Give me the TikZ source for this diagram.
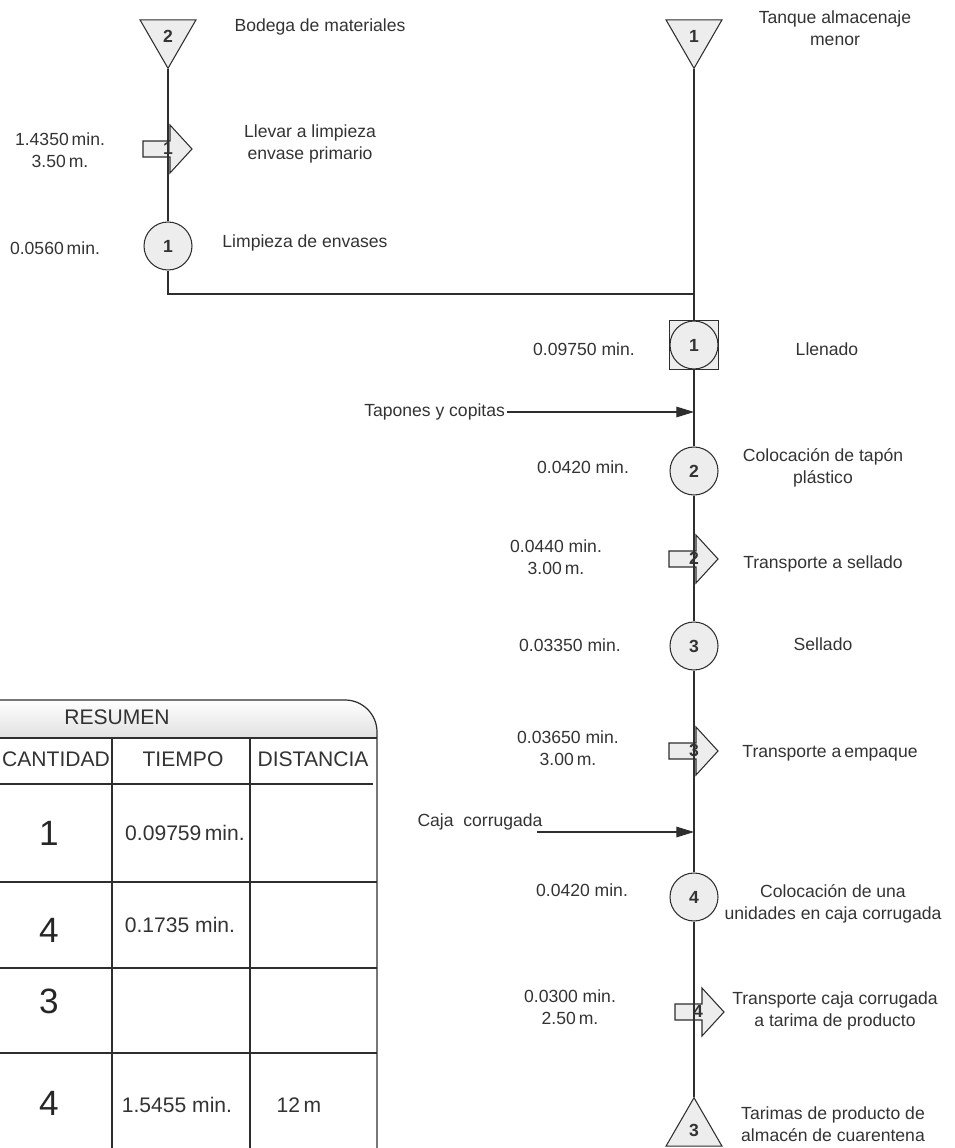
\documentclass[tikz,border=0pt]{standalone}
\usepackage{fontspec}
\setmainfont{Liberation Sans}
\usetikzlibrary{arrows.meta,calc,shapes.geometric}
\definecolor{grisfondo}{rgb}{0.93,0.93,0.93}
\definecolor{gristrazo}{rgb}{0.18,0.18,0.18}
\definecolor{gristexto}{rgb}{0.2,0.2,0.2}
\tikzset{
  operacion/.style={
    circle,
    draw=gristrazo,
    fill=grisfondo,
    line width=.6pt,
    minimum size=.96cm,
    inner sep=0pt,
    text=gristexto,
    font=\fontsize{10}{12}\selectfont\bfseries
  },
  inspeccion/.style={
    rectangle,
    draw=gristrazo,
    fill=grisfondo,
    line width=.6pt,
    minimum size=.98cm,
    inner sep=0pt
  },
  almacen/.style={
    regular polygon,
    regular polygon sides=3,
    draw=gristrazo,
    fill=grisfondo,
    line width=.6pt,
    minimum size=1.293cm,
    inner sep=0pt,
    text=gristexto,
    font=\fontsize{10}{12}\selectfont\bfseries
  },
  simbolo/.style={
    draw=gristrazo,
    fill=grisfondo,
    line width=.6pt
  },
  num/.style={
    inner sep=0pt,
    text=gristexto,
    font=\fontsize{10}{12}\selectfont\bfseries
  },
  texto/.style={
    align=center,
    inner sep=1pt,
    text=gristexto,
    font=\fontsize{10}{12.5}\selectfont
  },
  flujo/.style={
    draw=gristrazo,
    line width=.6pt
  },
  entrada/.style={
    flujo,
    -{Triangle[length=10pt,width=6pt]}
  },
  tabla/.style={
    draw=gristrazo,
    line width=.7pt
  },
  celda/.style={
    inner sep=1pt,
    text=gristexto,
    font=\fontsize{12}{14}\selectfont
  },
  cifra/.style={
    inner sep=1pt,
    text=black!85,
    font=\fontsize{20}{24}\selectfont
  },
  transp/.pic={
    \path[simbolo] (-25,-8) -- (2,-8) -- (2,-24) -- (24,0) -- (2,24) -- (2,8) -- (-25,8) -- cycle;
  }
}

\begin{document}
\begin{tikzpicture}[x=.02cm,y=-.02cm]
\useasboundingbox (0,0) rectangle (954,1148);
\clip (0,0) rectangle (954,1148);

\shade[top color=white, bottom color=black!12] (-20,738) -- (-20,700) -- (345,700)
  arc[start angle=270, end angle=360, radius=32] -- (377,738) -- cycle;
\draw[tabla] (-20,700) -- (345,700) arc[start angle=270, end angle=360, radius=32] -- (377,1160);
\draw[tabla] (-20,738) -- (377,738);
\draw[tabla] (-20,784) -- (373,784);
\draw[tabla] (-20,882) -- (377,882);
\draw[tabla] (-20,968) -- (377,968);
\draw[tabla] (-20,1053) -- (377,1053);
\draw[tabla] (112,738) -- (112,1160);
\draw[tabla] (250,738) -- (250,1160);
\node[celda] (resumen) at (117,717) {RESUMEN};
\node[celda] (h1) at (56,759) {CANTIDAD};
\node[celda] (h2) at (183,759) {TIEMPO};
\node[celda] (h3) at (313,759) {DISTANCIA};
\node[cifra] (n1) at (49,833) {1};
\node[cifra] (n2) at (49,930) {4};
\node[cifra] (n3) at (49,1001) {3};
\node[cifra] (n4) at (49,1103) {4};
\node[celda] (q1) at (185,833) {0.09759\,min.};
\node[celda] (q2) at (180,925) {0.1735 min.};
\node[celda] (q4) at (177,1105) {1.5455 min.};
\node[celda] (dist) at (299,1105) {12\,m};

\node[almacen, shape border rotate=180] (t2) at (168,36) {2};
\node[operacion] (c1) at (168,246) {1};
\node[almacen, shape border rotate=180] (t1) at (694,36) {1};
\node[inspeccion] (ll) at (694,345) {};
\node[operacion] (c0) at (ll) {1};
\node[operacion] (c2) at (694,471) {2};
\node[operacion] (c3) at (694,646) {3};
\node[operacion] (c4) at (694,897) {4};
\node[almacen] (t3) at (694,1130) {3};
\coordinate (union) at (694,294);

\pic at (168,149) {transp};
\pic at (694,559) {transp};
\pic at (694,751) {transp};
\pic at (700,1012) {transp};

\draw[flujo] (t2.corner 1) -- (c1.north);
\draw[flujo] (c1.south) |- (union);
\draw[flujo] (t1.corner 1) -- (ll.north);
\draw[flujo] (ll.south) -- (c2.north);
\draw[flujo] (c2.south) -- (c3.north);
\draw[flujo] (c3.south) -- (c4.north);
\draw[flujo] (c4.south) -- (t3.corner 1);

\node[num] (tr1) at (168,148) {1};
\node[num] (tr2) at (694,558) {2};
\node[num] (tr3) at (694,750) {3};
\node[num] (tr4) at (698,1011) {4};

\node[texto] (dt2) at (320,27) {Bodega de materiales};
\node[texto] (mtr1) at (60,150) {1.4350\,min.\\3.50\,m.};
\node[texto] (dtr1) at (310,144) {Llevar a limpieza\\envase primario};
\node[texto] (mc1) at (55,248) {0.0560\,min.};
\node[texto] (dc1) at (305,243) {Limpieza de envases};
\node[texto] (dt1) at (835,28) {Tanque almacenaje\\menor};
\node[texto] (mll) at (584,349) {0.09750 min.};
\node[texto] (dll) at (827,349) {Llenado};
\node[texto, anchor=east] (tap) at (507,412) {Tapones y copitas};
\coordinate (e1) at (694,412);
\draw[entrada] (tap) -- (e1);
\node[texto] (mc2) at (583,467) {0.0420 min.};
\node[texto] (dc2) at (823,468) {Colocación de tapón\\plástico};
\node[texto] (mtr2) at (556,557) {0.0440 min.\\3.00\,m.};
\node[texto] (dtr2) at (823,564) {Transporte a sellado};
\node[texto] (mc3) at (570,645) {0.03350 min.};
\node[texto] (dc3) at (823,644) {Sellado};
\node[texto] (mtr3) at (568,748) {0.03650 min.\\3.00\,m.};
\node[texto] (dtr3) at (830,753) {Transporte a\,empaque};
\node[texto] (caja) at (480,822) {Caja\ \ corrugada};
\coordinate (ca) at (537,832);
\coordinate (e2) at (694,832);
\draw[entrada] (ca) -- (e2);
\node[texto] (mc4) at (582,890) {0.0420 min.};
\node[texto] (dc4) at (833,904) {Colocación de una\\unidades en caja corrugada};
\node[texto] (mtr4) at (570,1007) {0.0300 min.\\2.50\,m.};
\node[texto] (dtr4) at (835,1011) {Transporte caja corrugada\\a tarima de producto};
\node[texto] (dt3) at (833,1124) {Tarimas de producto de\\almacén de cuarentena};
\end{tikzpicture}
\end{document}
